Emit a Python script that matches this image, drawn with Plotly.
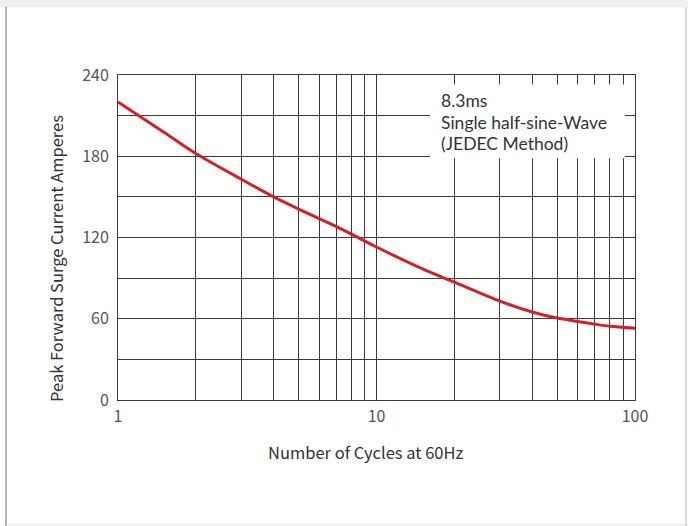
import plotly.graph_objects as go

cycles = [1, 1.5, 2, 3, 4, 5, 6, 7, 8, 10, 15, 20, 30, 40, 50, 60, 70, 80, 100]
amperes = [220, 198, 182, 163, 150, 141, 134, 128, 122.5, 113, 97, 87, 73, 65, 60.5, 58, 56, 54.5, 53]

x_tickvals = [1, 2, 3, 4, 5, 6, 7, 8, 9, 10, 20, 30, 40, 50, 60, 70, 80, 90, 100]
x_ticktext = ["1", "", "", "", "", "", "", "", "", "10", "", "", "", "", "", "", "", "", "100"]
y_tickvals = [0, 30, 60, 90, 120, 150, 180, 210, 240]
y_ticktext = ["0", "", "60", "", "120", "", "180", "", "240"]

note_lines = ["8.3ms", "Single half-sine-Wave", "(JEDEC Method)"]
x_title = "Number of Cycles at 60Hz"
y_title = "Peak Forward Surge Current Amperes"

FONT = "Noto Sans CJK SC"
NOTE_FONT = "Lato"
GRID = "#3a3a3a"

fig = go.Figure()
fig.add_trace(go.Scatter(
    x=cycles, y=amperes, mode="lines",
    line=dict(color="#d42027", width=3, shape="spline", smoothing=0.8),
    hoverinfo="skip", showlegend=False,
))

pw, ph = 517, 325
def px(xp):
    return (xp - 118) / pw
def py(yp):
    return (400 - yp) / ph

fig.update_layout(
    width=688, height=526,
    margin=dict(l=118, r=53, t=75, b=126),
    paper_bgcolor="white", plot_bgcolor="white",
    font=dict(family=FONT, color="#333333", size=16),
    xaxis=dict(
        type="log", range=[0, 2],
        tickvals=x_tickvals, ticktext=x_ticktext,
        showgrid=True, gridcolor=GRID, gridwidth=1,
        showline=True, linecolor=GRID, linewidth=1, mirror=True,
        ticks="", zeroline=False, ticklabelstandoff=2,
        tickfont=dict(size=16, color="#555555"),
    ),
    yaxis=dict(
        range=[0, 240],
        tickvals=y_tickvals, ticktext=y_ticktext,
        showgrid=True, gridcolor=GRID, gridwidth=1,
        showline=True, linecolor=GRID, linewidth=1, mirror=True,
        ticks="", zeroline=False, ticklabelstandoff=5,
        tickfont=dict(size=16, color="#555555"),
    ),
    shapes=[
        dict(type="rect", xref="paper", yref="paper", x0=-2, x1=2, y0=py(7), y1=3,
             fillcolor="#efefef", line=dict(width=0), layer="below"),
        dict(type="rect", xref="x", yref="y", x0=16.1, x1=91.5, y0=178.5, y1=233,
             fillcolor="white", line=dict(width=0), layer="above"),
        dict(type="line", xref="paper", yref="paper", x0=px(6), x1=px(6), y0=py(7), y1=py(526),
             line=dict(color="#999999", width=1.5)),
        dict(type="line", xref="paper", yref="paper", x0=px(686), x1=px(686), y0=py(7), y1=py(526),
             line=dict(color="#cccccc", width=1.5)),
        dict(type="line", xref="paper", yref="paper", x0=px(6), x1=px(686), y0=py(524.5), y1=py(524.5),
             line=dict(color="#e6e6e6", width=1)),
    ],
)

# note lines (centres at pixel rows ~102, 122, 143)
for i, line in enumerate(note_lines):
    fig.add_annotation(
        xref="paper", yref="paper", x=px(439), y=py(101 + 21 * i),
        xanchor="left", yanchor="middle", text=line, showarrow=False, align="left",
        font=dict(size=17.5, color="#333333", family=NOTE_FONT),
    )

fig.add_annotation(
    xref="paper", yref="paper", x=px(365), y=py(452), xanchor="center", yanchor="middle",
    text=x_title, showarrow=False, font=dict(size=16.5, color="#333333", family=FONT),
)
fig.add_annotation(
    xref="paper", yref="paper", x=px(56), y=py(259), xanchor="center", yanchor="middle",
    text=y_title, showarrow=False, textangle=-90, font=dict(size=16.5, color="#333333", family=FONT),
)

fig.write_html("out.html", config={"displayModeBar": False},
               post_script="document.body.style.margin='0';document.body.style.overflow='hidden';")
